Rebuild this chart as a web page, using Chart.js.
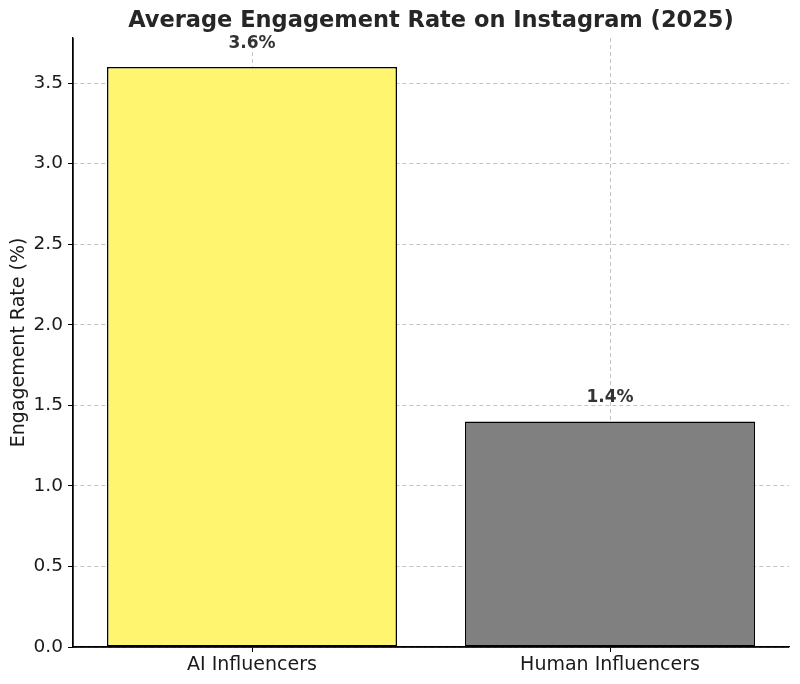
<!DOCTYPE html>
<html>
<head>
<meta charset="utf-8">
<script src="https://cdn.jsdelivr.net/npm/chart.js@4"></script>
<style>
  html, body { margin: 0; padding: 0; background: #fff; }
  #wrap { width: 800px; height: 684px; }
</style>
</head>
<body>
<div id="wrap"><canvas id="engagementChart"></canvas></div>
<script>
var chartTitle = "Average Engagement Rate on Instagram (2025)";
var categories = ["AI Influencers", "Human Influencers"];
var engagementRates = [3.6, 1.4];
var barColors = ["#fff56e", "#808080"];
var valueLabels = ["3.6%", "1.4%"];

var fontFamily = "'DejaVu Sans', sans-serif";
var gridColor = "#c4c4c4";

// writes the percentage just above each bar
var barLabelPlugin = {
    id: "barLabels",
    afterDatasetsDraw: function(chart) {
        var ctx = chart.ctx;
        var yScale = chart.scales.y;
        var meta = chart.getDatasetMeta(0);
        ctx.save();
        ctx.font = "bold 17px " + fontFamily;
        ctx.fillStyle = "#333333";
        ctx.textAlign = "center";
        ctx.textBaseline = "bottom";
        meta.data.forEach(function(bar, i) {
            var y = yScale.getPixelForValue(engagementRates[i] + 0.1);
            ctx.fillText(valueLabels[i], bar.x, y + 1);
        });
        ctx.restore();
    }
};

// solid left and bottom spines + title centred over the plot area
var framePlugin = {
    id: "frame",
    afterDraw: function(chart) {
        var a = chart.chartArea;
        var ctx = chart.ctx;
        ctx.save();
        ctx.strokeStyle = "#000000";
        ctx.lineWidth = 1.3;
        ctx.setLineDash([]);
        ctx.beginPath();
        ctx.moveTo(a.left, a.top);
        ctx.lineTo(a.left, a.bottom);
        ctx.lineTo(a.right, a.bottom);
        ctx.stroke();

        ctx.font = "bold 22.5px " + fontFamily;
        ctx.fillStyle = "#262626";
        ctx.textAlign = "center";
        ctx.textBaseline = "middle";
        ctx.fillText(chartTitle, (a.left + a.right) / 2, 21);
        ctx.restore();
    }
};

var ctxEngagement = document.getElementById("engagementChart");

new Chart(ctxEngagement, {
    type: "bar",
    data: {
        labels: categories,
        datasets: [
            {
                label: "Engagement Rate",
                data: engagementRates,
                backgroundColor: barColors,
                borderColor: "#000000",
                borderWidth: 1.5,
                borderSkipped: false,
                barPercentage: 0.81,
                categoryPercentage: 1.0,
            },
        ],
    },
    options: {
        responsive: true,
        maintainAspectRatio: false,
        animation: false,
        layout: {
            padding: { left: 0, right: 11, top: 38, bottom: 0 },
        },
        plugins: {
            legend: { display: false },
            tooltip: { enabled: false },
            title: { display: false },
        },
        scales: {
            x: {
                z: 1,
                offset: true,
                grid: {
                    offset: false,
                    color: gridColor,
                    lineWidth: 1,
                    tickColor: "#000000",
                    tickLength: 5,
                    tickBorderDash: [],
                },
                border: { display: true, color: "#000000", width: 1.3, dash: [4, 3] },
                ticks: {
                    color: "#1a1a1a",
                    padding: 2,
                    font: { family: fontFamily, size: 19 },
                },
                afterFit: function(scale) {
                    scale.height = 37;
                },
            },
            y: {
                z: 1,
                min: 0,
                max: 3.78,
                grid: {
                    color: gridColor,
                    lineWidth: 1,
                    tickColor: "#000000",
                    tickLength: 5,
                    tickBorderDash: [],
                },
                border: { display: true, color: "#000000", width: 1.3, dash: [4, 3] },
                ticks: {
                    stepSize: 0.5,
                    includeBounds: false,
                    color: "#1a1a1a",
                    padding: 5,
                    font: { family: fontFamily, size: 18.5 },
                    callback: function(value) {
                        return Number(value).toFixed(1);
                    },
                },
                title: {
                    display: true,
                    text: "Engagement Rate (%)",
                    color: "#1a1a1a",
                    font: { family: fontFamily, size: 19 },
                    padding: { top: 8, bottom: 0 },
                },
                afterFit: function(scale) {
                    scale.width = 73;
                },
            },
        },
    },
    plugins: [barLabelPlugin, framePlugin],
});
</script>
</body>
</html>
